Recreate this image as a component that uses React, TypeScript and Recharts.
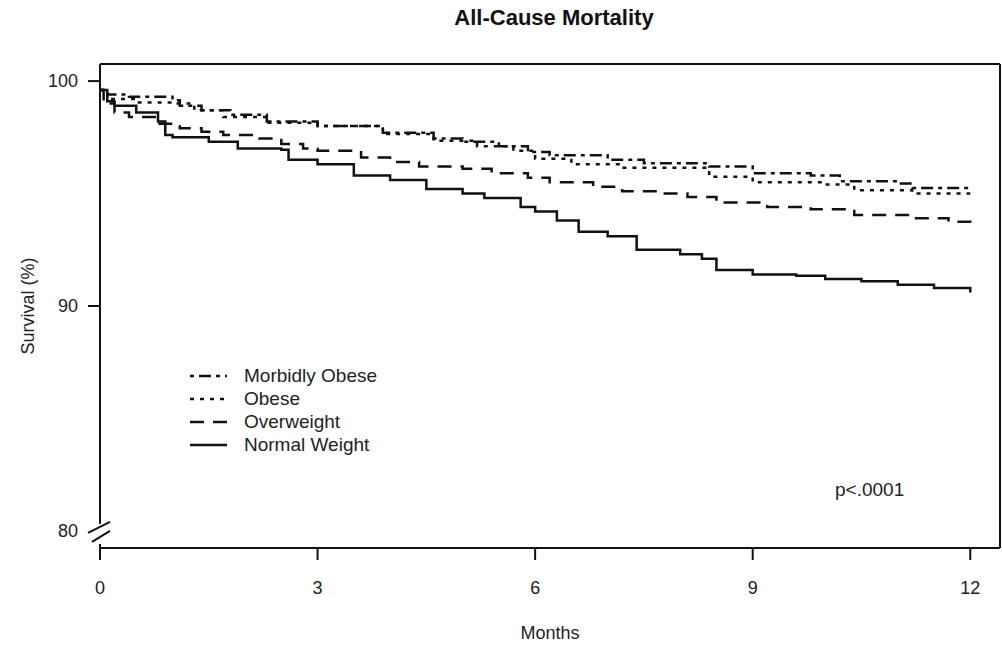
import { Legend, Line, LineChart, ReferenceLine, XAxis, YAxis } from "recharts";

const FONT = '"Liberation Sans", Arial, sans-serif';
const INK = "#111";

const morbidMonths = [0, 0.1, 0.4, 1.0, 1.1, 1.4, 1.8, 2.3, 3.0, 3.9, 4.6, 5.0, 5.5, 5.9, 6.2, 7.0, 7.5, 8.4, 9.0, 9.8, 10.2, 11.0, 11.2, 12.0];
const morbidSurv = [99.6, 99.4, 99.3, 99.15, 98.9, 98.7, 98.5, 98.2, 98.0, 97.7, 97.45, 97.3, 97.1, 96.85, 96.7, 96.5, 96.35, 96.2, 95.9, 95.8, 95.55, 95.45, 95.25, 95.15];

const obeseMonths = [0, 0.1, 0.5, 1.0, 1.3, 1.7, 2.3, 3.0, 3.9, 4.6, 5.2, 5.7, 6.0, 6.5, 7.2, 8.4, 9.0, 10.0, 10.4, 11.2, 12.0];
const obeseSurv = [99.6, 99.2, 99.05, 99.0, 98.7, 98.4, 98.15, 98.0, 97.65, 97.35, 97.1, 96.9, 96.55, 96.3, 96.15, 95.75, 95.5, 95.4, 95.15, 95.0, 95.0];

const overMonths = [0, 0.05, 0.2, 0.4, 0.8, 1.1, 1.4, 1.7, 2.2, 2.5, 2.8, 3.0, 3.6, 4.0, 4.4, 5.0, 5.4, 5.9, 6.2, 6.8, 7.2, 7.7, 8.1, 8.5, 9.2, 9.8, 10.4, 11.2, 11.7, 12.0];
const overSurv = [99.6, 99.0, 98.6, 98.4, 98.1, 97.9, 97.75, 97.6, 97.45, 97.2, 97.0, 96.9, 96.6, 96.4, 96.2, 96.1, 95.9, 95.7, 95.5, 95.3, 95.1, 95.0, 94.85, 94.6, 94.4, 94.3, 94.05, 93.9, 93.75, 93.6];

const normalMonths = [0, 0.1, 0.2, 0.5, 0.8, 0.9, 1.0, 1.5, 1.9, 2.5, 2.6, 3.0, 3.5, 4.0, 4.5, 5.0, 5.3, 5.8, 6.0, 6.3, 6.6, 7.0, 7.4, 8.0, 8.3, 8.5, 9.0, 9.6, 10.0, 10.5, 11.0, 11.5, 12.0];
const normalSurv = [99.6, 99.1, 98.9, 98.6, 98.2, 97.6, 97.5, 97.3, 97.0, 96.95, 96.5, 96.3, 95.8, 95.6, 95.2, 95.0, 94.8, 94.4, 94.2, 93.8, 93.3, 93.1, 92.5, 92.3, 92.1, 91.6, 91.4, 91.35, 91.2, 91.1, 90.95, 90.8, 90.6];

const xTicks = [0, 3, 6, 9, 12];
const yTicks = [80, 90, 100];

const X_MAX = 12.41;
const Y_MIN = 79.24;
const Y_MAX = 100.76;

const zip = (months: number[], surv: number[]) =>
  months.map((month, i) => ({ month, surv: surv[i] }));

const series = [
  { name: "Morbidly Obese", data: zip(morbidMonths, morbidSurv), dash: "4 5 12 5" },
  { name: "Obese", data: zip(obeseMonths, obeseSurv), dash: "4 6" },
  { name: "Overweight", data: zip(overMonths, overSurv), dash: "14 9" },
  { name: "Normal Weight", data: zip(normalMonths, normalSurv), dash: undefined },
];

// y tick with its own tick line; at 80 it draws the axis break instead
function YTick(props: any) {
  const { x, y, payload } = props;
  const ax = x + 22;
  return (
    <g>
      {payload.value === 80 ? (
        <g stroke={INK} strokeWidth={2}>
          <rect x={ax - 4} y={y - 7} width={8} height={20} fill="#fff" stroke="none" />
          <line x1={ax - 12} y1={y + 2} x2={ax + 10} y2={y - 9} />
          <line x1={ax - 8} y1={y + 11} x2={ax + 10} y2={y} />
        </g>
      ) : (
        <line x1={ax - 12} y1={y} x2={ax} y2={y} stroke={INK} strokeWidth={2} />
      )}
      <text x={x} y={y} dy="0.35em" textAnchor="end" fontSize={18} fill="#222" fontFamily={FONT}>
        {payload.value}
      </text>
    </g>
  );
}

function LegendBox() {
  return (
    <div style={{ fontFamily: FONT, fontSize: 19, color: "#222" }}>
      {series.map((s) => (
        <div key={s.name} style={{ display: "flex", alignItems: "center", height: 23 }}>
          <svg width={37} height={10}>
            <line x1={0} y1={5} x2={37} y2={5} stroke={INK} strokeWidth={2.5} strokeDasharray={s.dash} />
          </svg>
          <span style={{ marginLeft: 17 }}>{s.name}</span>
        </div>
      ))}
    </div>
  );
}

export default function App() {
  return (
    <div style={{ position: "absolute", left: 0, top: 0, width: 1002, height: 649, background: "#fff" }}>
      <div
        style={{
          position: "absolute",
          left: 104,
          top: 5,
          width: 900,
          textAlign: "center",
          fontFamily: FONT,
          fontWeight: "bold",
          fontSize: 22,
          lineHeight: "26px",
          color: "#111",
        }}
      >
        All-Cause Mortality
      </div>
      <LineChart width={1002} height={649} margin={{ top: 64, right: 2, bottom: 0, left: 0 }}>
        <XAxis
          type="number"
          dataKey="month"
          domain={[0, X_MAX]}
          allowDataOverflow
          ticks={xTicks}
          tickSize={12}
          tickMargin={21}
          height={101}
          stroke={INK}
          strokeWidth={2}
          tick={{ fontSize: 18, fill: "#222", fontFamily: FONT }}
          label={{ value: "Months", position: "insideBottom", offset: 10, style: { fontSize: 18, fill: "#222", fontFamily: FONT } }}
        />
        <YAxis
          type="number"
          domain={[Y_MIN, Y_MAX]}
          allowDataOverflow
          ticks={yTicks}
          width={100}
          tickSize={12}
          tickMargin={10}
          tickLine={false}
          stroke={INK}
          strokeWidth={2}
          tick={<YTick />}
          label={{
            value: "Survival (%)",
            angle: -90,
            position: "insideLeft",
            offset: 28,
            style: { textAnchor: "middle", fontSize: 18, fill: "#222", fontFamily: FONT },
          }}
        />
        <ReferenceLine y={Y_MAX} stroke={INK} strokeWidth={2} />
        <ReferenceLine x={X_MAX} stroke={INK} strokeWidth={2} />
        {series.map((s) => (
          <Line
            key={s.name}
            data={s.data}
            dataKey="surv"
            name={s.name}
            type="stepAfter"
            stroke={INK}
            strokeWidth={2.5}
            strokeDasharray={s.dash}
            dot={false}
            isAnimationActive={false}
          />
        ))}
        <Legend
          layout="horizontal"
          verticalAlign="middle"
          align="center"
          content={<LegendBox />}
          wrapperStyle={{ left: 190, top: 364, width: "auto" }}
        />
      </LineChart>
      <div
        style={{
          position: "absolute",
          left: 835,
          top: 479,
          fontFamily: FONT,
          fontSize: 19,
          color: "#222",
        }}
      >
        p&lt;.0001
      </div>
    </div>
  );
}
